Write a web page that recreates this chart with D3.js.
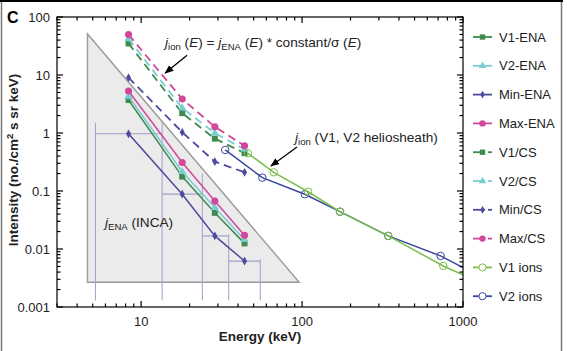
<!DOCTYPE html>
<html><head><meta charset="utf-8">
<script src="https://cdn.jsdelivr.net/npm/d3@7"></script>
<style>body{margin:0;background:#fff}svg{display:block;font-family:"Liberation Sans",Arial,Helvetica,sans-serif}</style>
</head><body><svg id="c" width="567" height="351"></svg>
<script>
// ---- data ----
const energiesENA=[8.35,18,28.7,43.9];
const v1ENA=[3.7,0.177,0.042,0.0125];
const v2ENA=[4.3,0.215,0.052,0.0145];
const minENA=[0.97,0.088,0.0168,0.0062];
const maxENA=[5.3,0.31,0.067,0.0172];
const v1CS=[35,2.2,0.8,0.45];
const v2CS=[42,2.7,1.0,0.52];
const minCS=[9,1.03,0.32,0.21];
const maxCS=[50,3.85,1.28,0.6];
const v1IonE=[46.1,66.7,109,172,343,754,1000];
const v1Ion=[0.447,0.21,0.097,0.044,0.0168,0.0051,0.0036];
const v2IonE=[33.3,56.6,104,172,343,726,1000];
const v2Ion=[0.51,0.17,0.088,0.044,0.0168,0.0076,0.0048];
const incaEdges=[5.2,13.5,24,35,55];
const incaEdgeTop=[1.5,1.5,0.2,0.018,0.0066];
const incaEdgeBottom=0.0013;
const triangleE=[4.64,4.64,96];
const triangleI=[51,0.00267,0.00267];
const xTickLabels=[10,100,1000];
const yTickLabels=[0.001,0.01,0.1,1,10,100];
const legendNames=["V1-ENA","V2-ENA","Min-ENA","Max-ENA","V1/CS","V2/CS","Min/CS","Max/CS","V1 ions","V2 ions"];

// ---- styles ----
const C={v1:"#3f8a4c",v2:"#78cdd0",min:"#4c4a9e",max:"#d2479b",v1i:"#7cbd4c",v2i:"#3a46a0"};
const svg=d3.select("#c");
const L=57,R=463,T=17,B=307;
const x=d3.scaleLog().domain([3,1000]).range([L,R]);
const y=d3.scaleLog().domain([0.001,100]).range([B,T]);

// frame
svg.append("rect").attr("x",1.5).attr("y",1).attr("width",560).attr("height",352).attr("fill","none").attr("stroke","#777").attr("stroke-width",1.5);
svg.append("line").attr("x1",0).attr("x2",563).attr("y1",1).attr("y2",1).attr("stroke","#000").attr("stroke-width",2);

const defs=svg.append("defs");
defs.append("clipPath").attr("id","clip").append("rect").attr("x",L).attr("y",T).attr("width",R-L).attr("height",B-T);
defs.append("marker").attr("id","arr").attr("viewBox","0 0 10 10").attr("refX",9).attr("refY",5)
  .attr("markerWidth",9).attr("markerHeight",9).attr("orient","auto").attr("markerUnits","userSpaceOnUse")
  .append("path").attr("d","M0,1 L10,5 L0,9 Z").attr("fill","#000");

const plot=svg.append("g").attr("clip-path","url(#clip)");

// triangle
plot.append("path").attr("d",d3.line()(triangleE.map((e,i)=>[x(e),y(triangleI[i])]))+"Z")
  .attr("fill","#ebebeb").attr("stroke","#9a9a9a").attr("stroke-width",1.4);

// INCA channel lines
const ecol="#a29fcc";
incaEdges.forEach((e,i)=>{
  plot.append("line").attr("x1",x(e)).attr("x2",x(e)).attr("y1",y(incaEdgeBottom)).attr("y2",y(incaEdgeTop[i]))
   .attr("stroke",ecol).attr("stroke-width",1);
});
minENA.forEach((v,i)=>{
  plot.append("line").attr("x1",x(incaEdges[i])).attr("x2",x(incaEdges[i+1])).attr("y1",y(v)).attr("y2",y(v))
   .attr("stroke",ecol).attr("stroke-width",1.2);
});

const line=d3.line().x(d=>x(d[0])).y(d=>y(d[1]));
const sym={square:d3.symbolSquare,triangle:d3.symbolTriangle,diamond:d3.symbolDiamond,circle:d3.symbolCircle};
const symSize={square:36,triangle:30,diamond:22,circle:40};
function series(E,V,color,marker,dashed,open,skipLast){
  const pts=E.map((e,i)=>[e,V[i]]);
  plot.append("path").attr("d",line(pts)).attr("fill","none").attr("stroke",color)
    .attr("stroke-width",dashed?1.8:1.5).attr("stroke-dasharray",dashed?"8,5":null);
  const mp=skipLast?pts.slice(0,-1):pts;
  plot.selectAll(null).data(mp).enter().append("path")
    .attr("transform",d=>`translate(${x(d[0])},${y(d[1])})`)
    .attr("d",open?d3.symbol(d3.symbolCircle,44)():d3.symbol(sym[marker],symSize[marker])())
    .attr("fill",open?"none":color).attr("stroke",open?color:"none").attr("stroke-width",1);
}
series(energiesENA,minCS,C.min,"diamond",true);
series(energiesENA,v1CS,C.v1,"square",true);
series(energiesENA,v2CS,C.v2,"triangle",true);
series(energiesENA,maxCS,C.max,"circle",true);
series(energiesENA,minENA,C.min,"diamond",false);
series(energiesENA,v1ENA,C.v1,"square",false);
series(energiesENA,v2ENA,C.v2,"triangle",false);
series(energiesENA,maxENA,C.max,"circle",false);
series(v2IonE,v2Ion,C.v2i,"circle",false,true,true);
series(v1IonE,v1Ion,C.v1i,"circle",false,true,true);

// axes frame
const ax=svg.append("g").attr("stroke","#000").attr("stroke-width",1.2);
ax.append("rect").attr("x",L).attr("y",T).attr("width",R-L).attr("height",B-T).attr("fill","none");
const isMajor=v=>Math.abs(Math.log10(v)-Math.round(Math.log10(v)))<1e-6;
x.ticks().forEach(v=>{
  const len=isMajor(v)?6:3.5, px=x(v);
  ax.append("line").attr("x1",px).attr("x2",px).attr("y1",B).attr("y2",B-len);
  ax.append("line").attr("x1",px).attr("x2",px).attr("y1",T).attr("y2",T+len);
});
y.ticks().forEach(v=>{
  const len=isMajor(v)?6:3.5, py=y(v);
  ax.append("line").attr("x1",L).attr("x2",L+len).attr("y1",py).attr("y2",py);
  ax.append("line").attr("x1",R).attr("x2",R-len).attr("y1",py).attr("y2",py);
});
const fmt=v=>v>=1?String(v):String(+v.toPrecision(1));
svg.selectAll(null).data(xTickLabels).enter().append("text").attr("x",d=>x(d)).attr("y",326)
  .attr("text-anchor","middle").attr("font-size",13).attr("fill","#222").text(fmt);
svg.selectAll(null).data(yTickLabels).enter().append("text").attr("x",50).attr("y",d=>y(d)+4.5)
  .attr("text-anchor","end").attr("font-size",13).attr("fill","#222").text(fmt);

// axis titles
svg.append("text").attr("x",260).attr("y",341).attr("text-anchor","middle").attr("font-size",13.5)
  .attr("font-weight","bold").attr("fill","#222").text("Energy (keV)");
const yl=svg.append("text").attr("transform","translate(18,160) rotate(-90)").attr("text-anchor","middle")
  .attr("font-size",13.5).attr("font-weight","bold").attr("fill","#222");
yl.append("tspan").text("Intensity (no./cm");
yl.append("tspan").attr("font-size",9.5).attr("dy",-5).text("2");
yl.append("tspan").attr("dy",5).text(" s sr keV)");
svg.append("text").attr("x",7).attr("y",23).attr("font-size",16).attr("font-weight","bold").text("C");

// annotations
const AF=13.6, SF=9.6;
function jlabel(px,py,sub){
  const t=svg.append("text").attr("x",px).attr("y",py).attr("font-size",AF).attr("fill","#222");
  t.append("tspan").attr("font-style","italic").text("j");
  t.append("tspan").attr("font-size",SF).attr("dy",3).text(sub);
  return t;
}
let t1=jlabel(165,47,"ion");
t1.append("tspan").attr("dy",-3).text(" (");
t1.append("tspan").attr("font-style","italic").text("E");
t1.append("tspan").text(") = ");
t1.append("tspan").attr("font-style","italic").text("j");
t1.append("tspan").attr("font-size",SF).attr("dy",3).text("ENA");
t1.append("tspan").attr("dy",-3).text(" (");
t1.append("tspan").attr("font-style","italic").text("E");
t1.append("tspan").text(") * constant/σ (");
t1.append("tspan").attr("font-style","italic").text("E");
t1.append("tspan").text(")");
let t2=jlabel(295,142,"ion");
t2.append("tspan").attr("dy",-3).text(" (V1, V2 heliosheath)");
let t3=jlabel(105,227,"ENA");
t3.append("tspan").attr("dy",-3).text(" (INCA)");

svg.append("line").attr("x1",x(19.3)).attr("y1",y(22)).attr("x2",x(14.1)).attr("y2",y(10.8))
  .attr("stroke","#000").attr("stroke-width",1.3).attr("marker-end","url(#arr)");
svg.append("line").attr("x1",x(93)).attr("y1",y(0.574)).attr("x2",x(64.1)).attr("y2",y(0.27))
  .attr("stroke","#000").attr("stroke-width",1.3).attr("marker-end","url(#arr)");

// legend
const legColors=[C.v1,C.v2,C.min,C.max,C.v1,C.v2,C.min,C.max,C.v1i,C.v2i];
const legMarkers=["square","triangle","diamond","circle","square","triangle","diamond","circle","open","open"];
const lg=svg.append("g");
legendNames.forEach((n,i)=>{
  const ly=37+i*28.8, col=legColors[i], dashed=i>=4&&i<8;
  if(dashed){
    lg.append("line").attr("x1",473).attr("x2",485).attr("y1",ly).attr("y2",ly).attr("stroke",col).attr("stroke-width",1.8);
    lg.append("line").attr("x1",488).attr("x2",492).attr("y1",ly).attr("y2",ly).attr("stroke",col).attr("stroke-width",1.8);
  } else {
    lg.append("line").attr("x1",473).attr("x2",492).attr("y1",ly).attr("y2",ly).attr("stroke",col).attr("stroke-width",1.8);
  }
  const m=legMarkers[i];
  lg.append("path").attr("transform",`translate(482.5,${ly})`)
    .attr("d",m==="open"?d3.symbol(d3.symbolCircle,40)():d3.symbol(sym[m],symSize[m]*0.8)())
    .attr("fill",m==="open"?"#fff":col).attr("stroke",m==="open"?col:"none");
  lg.append("text").attr("x",499).attr("y",ly+4.5).attr("font-size",13).attr("fill","#222").text(n);
});
</script></body></html>
